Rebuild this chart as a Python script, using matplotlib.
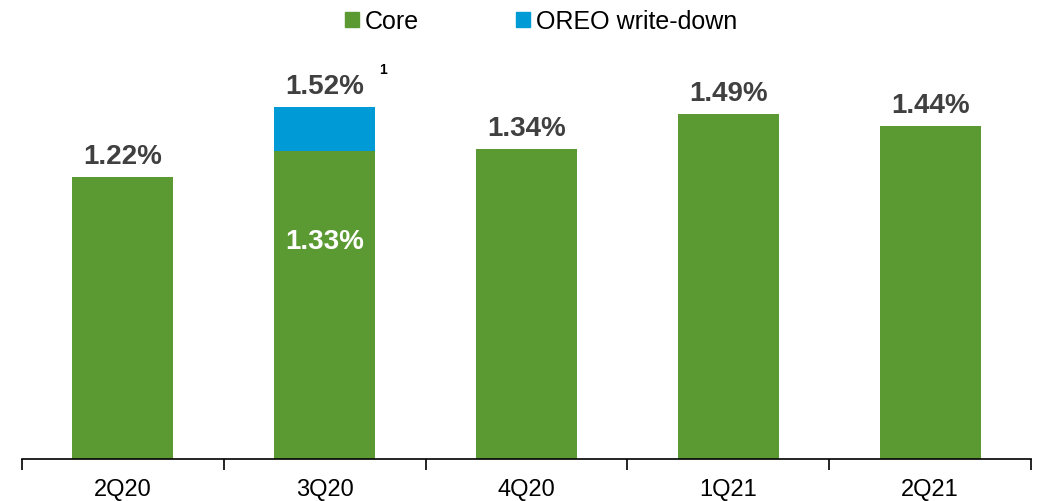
import matplotlib.pyplot as plt
from matplotlib.patches import Patch

plt.rcParams['font.family'] = ['Liberation Sans', 'DejaVu Sans']

# Data
quarters = ['2Q20', '3Q20', '4Q20', '1Q21', '2Q21']
core = [1.22, 1.33, 1.34, 1.49, 1.44]
oreo = [0, 0.19, 0, 0, 0]
totals = ['1.22%', '1.52%', '1.34%', '1.49%', '1.44%']

green = '#5B9A33'
blue = '#009AD6'

fig = plt.figure(figsize=(10.49, 5.02), dpi=100)
ax = fig.add_axes([22 / 1049, 42 / 502, 1009 / 1049, 418 / 502])

x = list(range(len(quarters)))
ax.bar(x, core, width=0.5, color=green)
ax.bar(x, oreo, width=0.5, bottom=core, color=blue)

for i in x:
    top = core[i] + oreo[i]
    ax.text(i, top + 0.035, totals[i], ha='center', va='bottom',
            fontsize=20, fontweight='bold', color='#404040')

# inside label for the stacked bar and footnote marker
ax.text(1, 0.94, '1.33%', ha='center', va='center', fontsize=20,
        fontweight='bold', color='white')
ax.text(1.27, 1.52 + 0.165, '1', ha='left', va='center', fontsize=10,
        fontweight='bold', color='black')

ax.set_xlim(-0.5, 4.5)
ax.set_ylim(0, 1.806)
ax.set_yticks([])
for s in ['top', 'right', 'left']:
    ax.spines[s].set_visible(False)
ax.spines['bottom'].set_linewidth(1.2)

ax.set_xticks(x)
ax.set_xticklabels(quarters, fontsize=17)
ax.tick_params(axis='x', which='major', length=0, pad=14)
ax.set_xticks([i - 0.5 for i in range(len(quarters) + 1)], minor=True)
ax.tick_params(axis='x', which='minor', length=8, width=1.2, direction='out')

handles = [Patch(color=green, label='Core'), Patch(color=blue, label='OREO write-down')]
fig.legend(handles=handles, loc='upper center', bbox_to_anchor=(0.516, 1.025),
           ncol=2, frameon=False, fontsize=18, handlelength=0.56, handleheight=0.56,
           handletextpad=0.24, columnspacing=3.9)

fig.savefig('out.png', dpi=100)
